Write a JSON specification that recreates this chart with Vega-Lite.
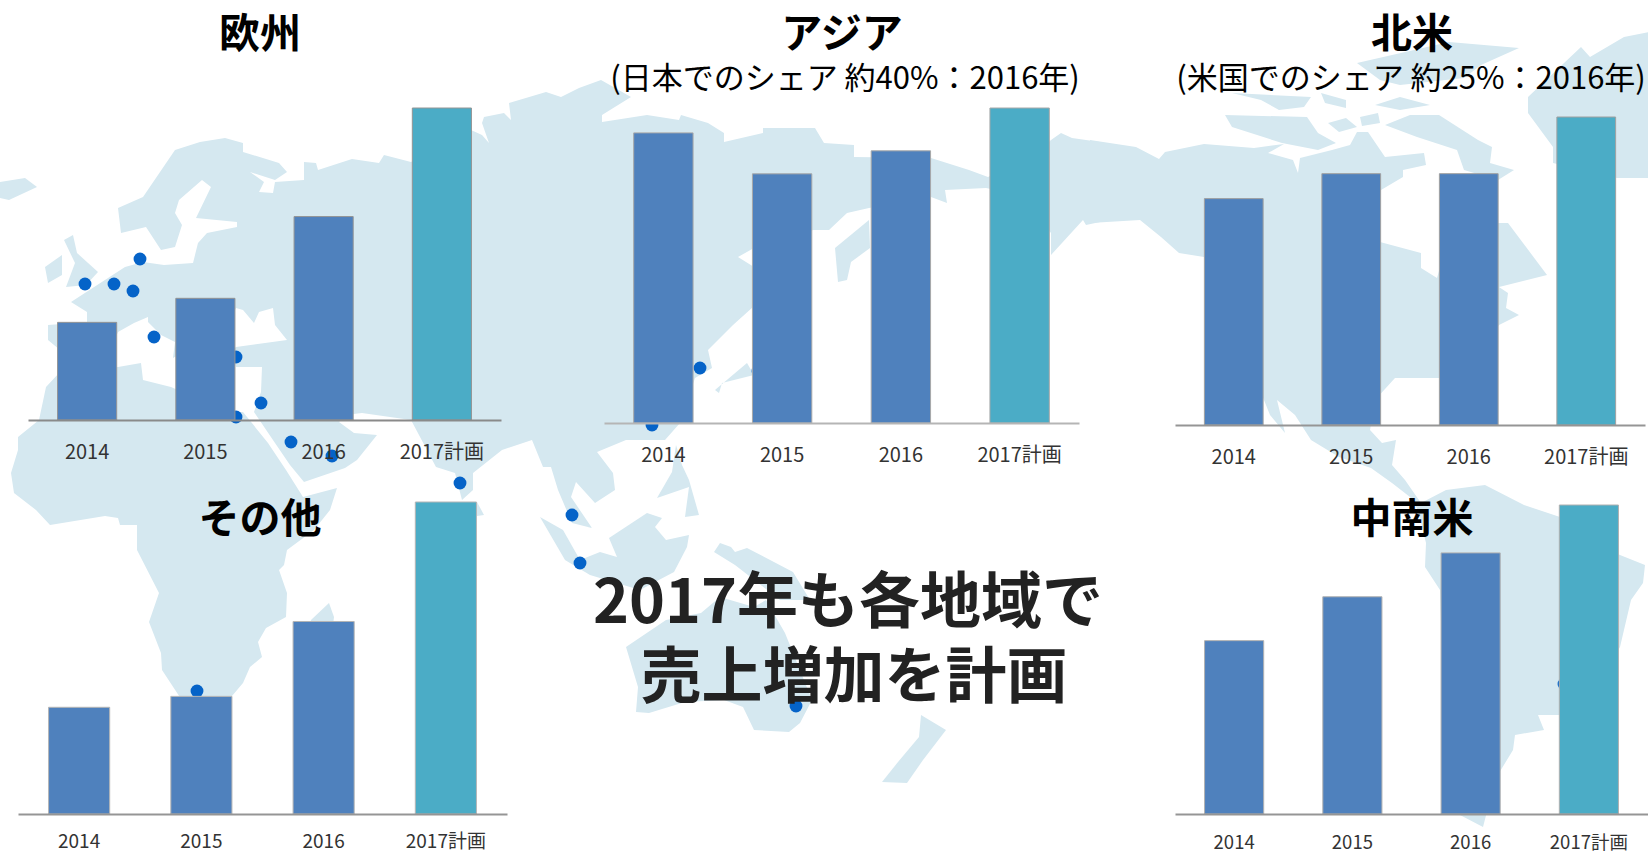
{"$schema":"https://vega.github.io/schema/vega-lite/v6.json","width":1648,"height":851,"padding":0,"autosize":{"type":"none"},"background":"white","config":{"view":{"stroke":null},"font":"Noto Sans CJK JP","axis":{"labelFont":"Noto Sans CJK JP"}},
"datasets":{
"land":[
{"type":"Feature","properties":{"name":"Eurasia"},"geometry":{"type":"Polygon","coordinates":[[[3.6,78.4],[8.6,80.6],[15,90],[20,91.6],[25,92.4],[28.6,91.4],[28.6,89.6],[35.8,87.4],[37.4,85.6],[35,84],[30,85.6],[32.8,83.6],[31.8,81.6],[34.6,81.4],[35,83.6],[40.8,84],[40.8,87.6],[43.2,87.4],[43.6,86],[50.4,88.2],[55.8,87.4],[56.8,89],[62.2,87.6],[74.2,94],[76.4,93],[77.8,91.4],[76.4,95.4],[76.8,96.6],[80.8,97.4],[82.2,96],[81.8,99.4],[89.2,101.6],[92.2,100.6],[95.8,102.4],[100.2,104],[106.2,100.6],[100.4,97],[100.4,95.6],[109.4,97],[115.8,96],[116.2,97],[121.6,95.4],[124.8,93.4],[124.8,91.6],[132.6,93.4],[132.6,94.4],[143,94.4],[144.8,91.4],[150.8,91],[150.8,88.6],[166.2,88.4],[173.8,86],[177.6,84.6],[188,90],[190.2,92],[192.2,93.4],[194.4,92.4],[200,91.6],[200,75.6],[197.2,75],[196.6,76],[190.2,69],[190.2,73.4],[184,81],[177.2,82.4],[169,82],[169.4,79.4],[166.2,80.6],[153.8,78.4],[149.4,77.4],[145.8,74],[142.6,74],[138,72],[130.8,70.4],[127.6,68.6],[130.8,66.6],[130.6,58.6],[126.6,55],[121.6,50],[122.4,46.4],[119,44.4],[116,35.4],[113,32],[105.2,32],[99.4,29.6],[102.6,25.4],[103,22],[99,19.4],[95.2,23.6],[94.2,20.6],[98.4,14.4],[94.4,15.4],[91.6,22],[90.2,26.6],[88.6,26.6],[86.4,32],[80.4,30],[74.6,25.4],[74.6,22],[72.4,20],[71,25.4],[67.2,26.6],[62.2,36],[52.4,37.4],[49,37],[47.8,35.6],[50.8,33.4],[55.4,33],[51.4,28],[49,26.4],[40.8,23.6],[38,27],[35,31.4],[30.8,37.6],[32.2,41.6],[32.4,46.6],[27.2,46.6],[26.4,50],[27.2,50.6],[37.4,52],[35,55],[34.6,58.4],[31.8,57.6],[30.8,55.4],[28.6,58],[27.2,58.4],[26,56],[25,50],[15.6,49],[14.6,48.4],[15,51.6],[12.2,53],[9.6,55.6],[9.6,56.6],[6.8,55.4],[3.6,53.6],[2,50],[-8,50],[-10.4,52],[-10.4,55],[-2.6,55.6],[-2.6,57.6],[-5.8,59.6],[5,66.6],[8.6,67.6],[12.8,67],[18.6,67.4],[19.6,71.4],[21.4,73.4],[27.4,74.6],[27.4,75.6],[19.2,76.4],[22.2,82.6],[20.4,84],[15.8,80],[15,77.4],[16.4,75],[15,70.6],[12.2,70],[9.2,74.6],[4.2,73.4],[3.6,78.4]]]}},
{"type":"Feature","properties":{"name":"Americas"},"geometry":{"type":"Polygon","coordinates":[[[198,92],[207.2,90.6],[211.8,88.2],[213,89.6],[220.8,91.2],[230.8,90.4],[236.8,91.2],[233.6,89.4],[238.6,88],[239.6,85.4],[240,88.4],[246.4,90],[250,91],[251.4,93.6],[253.6,93.6],[257,88.6],[264.8,89.4],[265.2,87],[260.6,86],[260.6,84.6],[256.2,82],[255,72],[256,71.6],[264.2,69.4],[264.2,66.4],[267.4,64.4],[269,70],[274,75],[279.6,75.4],[281.6,75.4],[289.4,65],[279.8,62.6],[281.6,61.4],[281.2,58.4],[283.8,57],[279.8,55],[274,48],[267.8,44.4],[259,44.4],[255,40],[254,34],[256.4,31.4],[259.2,32],[258.4,27],[261,24],[264.2,19.4],[269.2,22],[277,23],[284.8,19],[292,16.6],[298,12],[304,9],[309,7],[308.6,3.4],[306.2,0],[304,-9.4],[298,-20],[292,-23],[287.6,-23],[288.8,-26],[283,-27],[282.6,-30],[279.8,-34.6],[278,-40],[276.6,-45.4],[272,-43],[269,-30],[268,2],[265,6.6],[265.2,11.4],[263.6,18],[262,20.6],[258.4,23.4],[254.2,26.4],[247.8,28.6],[242.2,32],[239,37],[235.4,40],[237,33.4],[234,37],[232.4,41],[227,52],[220.8,68.6],[215.8,69.4],[212.2,72.6],[208,76],[198,75.4],[198,92]]]}},
{"type":"Feature","properties":{"name":"Africa"},"geometry":{"type":"Polygon","coordinates":[[[28.6,37.6],[33.6,31.4],[37.2,26],[40.6,20.6],[47.4,22.4],[46,18],[42.8,14],[37.4,10],[36.8,7],[35.8,6],[37.4,1.4],[37.2,-3.4],[33.2,-5.6],[31.6,-8.4],[32.4,-11.4],[30,-13.4],[28.6,-16.6],[26.4,-19.2],[21,-25],[17,-21],[12.4,-14],[12.2,-10.6],[9.8,-4.4],[11.8,1.4],[7.4,10],[7.4,15],[4,15],[3.6,16.4],[1,16.8],[-10,15],[-12.8,18],[-17.2,21.4],[-17.8,25.4],[-16.4,30],[-16.4,32.6],[-12.2,36],[-10.8,42.6],[-8,45.6],[3.6,46.6],[8.2,47.4],[8.6,44],[14.2,42.6],[20,40],[27,37.6],[28.6,37.6]]]}},
{"type":"Feature","properties":{"name":"Great Britain"},"geometry":{"type":"Polygon","coordinates":[[[-7.2,72],[-5.4,73],[-4.6,69.4],[-0.4,65.6],[-2.8,63],[-6.8,62.6],[-5,67.4],[-7.2,72]]]}},
{"type":"Feature","properties":{"name":"Ireland"},"geometry":{"type":"Polygon","coordinates":[[[-11,66.6],[-7.6,69],[-7.6,65],[-10.4,63.4],[-11,66.6]]]}},
{"type":"Feature","properties":{"name":"Iceland"},"geometry":{"type":"Polygon","coordinates":[[[-20,83.6],[-15,84.4],[-12.6,82.6],[-18.2,80],[-20,80.4],[-20,83.6]]]}},
{"type":"Feature","properties":{"name":"Madagascar"},"geometry":{"type":"Polygon","coordinates":[[[45.8,-0.6],[46.8,-3.4],[46,-10],[41,-12],[42.2,-4],[45.8,-0.6]]]}},
{"type":"Feature","properties":{"name":"Sri Lanka"},"geometry":{"type":"Polygon","coordinates":[[[75.4,19.6],[76.8,17],[75.4,16.8],[73.6,19],[75.4,19.6]]]}},
{"type":"Feature","properties":{"name":"Philippines"},"geometry":{"type":"Polygon","coordinates":[[[115.2,31],[114.4,25.6],[111.4,20.4],[117.8,22.6],[117,16.6],[119.8,17],[117.8,24],[116.4,27],[115.2,31]]]}},
{"type":"Feature","properties":{"name":"Indonesia"},"geometry":{"type":"Polygon","coordinates":[[[88,16.6],[92.6,14],[96,8],[100,9.6],[103.4,8.6],[101.8,12.4],[109.4,17.4],[112.4,16.4],[111,14.6],[113.2,12],[117.8,13],[117.4,10.6],[114.8,5.6],[108,2],[98,5],[93,8],[88,16.6]]]}},
{"type":"Feature","properties":{"name":"New Guinea"},"geometry":{"type":"Polygon","coordinates":[[[122.8,9.6],[124,11.4],[126.2,10.6],[127,9.6],[129.4,10.4],[138.6,5.6],[142,0],[136,0],[127,7],[122.8,9.6]]]}},
{"type":"Feature","properties":{"name":"Australia"},"geometry":{"type":"Polygon","coordinates":[[[105.2,-9.4],[113.2,-4],[120.2,-2.6],[124,0.6],[130.8,-1.4],[133.2,0],[137,-6.6],[142.4,-20],[140,-24.6],[137.8,-26.4],[130.8,-26],[128.6,-21.4],[124.8,-20],[117,-20.4],[109.8,-22.6],[107.2,-22.4],[107.6,-17.4],[105.2,-9.4]]]}},
{"type":"Feature","properties":{"name":"New Zealand"},"geometry":{"type":"Polygon","coordinates":[[[164.2,-23],[169.2,-26],[164.6,-32],[161.4,-36.6],[156.4,-36.4],[159.6,-32.4],[163.8,-27.4],[164.2,-23]]]}},
{"type":"Feature","properties":{"name":"Sakhalin"},"geometry":{"type":"Polygon","coordinates":[[[147,70.4],[153.8,76],[154,70.4],[150.2,67.6],[149.4,64],[147.6,63.6],[147,70.4]]]}},
{"type":"Feature","properties":{"name":"Japan"},"geometry":{"type":"Polygon","coordinates":[[[123,42],[129.4,47.4],[130.8,45],[124.4,43.4],[123.8,41.4],[123,42]]]}},
{"type":"Feature","properties":{"name":"Greenland"},"geometry":{"type":"Polygon","coordinates":[[[285.6,100.6],[296.2,110.6],[298,108.6],[304.8,112.6],[312,114],[312,84.4],[303.4,84.4],[290.6,87.4],[290.6,90.6],[285.6,97.4],[285.6,100.6]]]}},
{"type":"Feature","properties":{"name":"Ellesmere"},"geometry":{"type":"Polygon","coordinates":[[[251.4,107.4],[269.8,111.6],[283.8,110.4],[276.2,107],[272.8,104.4],[260,103],[256,104],[251.4,107.4]]]}},
{"type":"Feature","properties":{"name":"Baffin"},"geometry":{"type":"Polygon","coordinates":[[[257,95],[262,97],[267.8,97],[275.6,92],[278.4,90.6],[278,87.4],[282.8,86],[279.6,84],[272.8,86],[271.4,90],[263.4,92.6],[257,95]]]}},
{"type":"Feature","properties":{"name":"Victoria"},"geometry":{"type":"Polygon","coordinates":[[[225,97],[241.4,96.6],[243.6,93.4],[247.2,91.4],[243.6,90],[236.4,91.4],[226.4,94.6],[225,97]]]}},
{"type":"Feature","properties":{"name":"Arctic A"},"geometry":{"type":"Polygon","coordinates":[[[245.6,95.4],[249.2,96.4],[251.4,94.6],[247.8,93.6],[245.6,95.4]]]}},
{"type":"Feature","properties":{"name":"Arctic B"},"geometry":{"type":"Polygon","coordinates":[[[252,96.6],[255.6,97.4],[256,95.4],[252.4,94.8],[252,96.6]]]}},
{"type":"Feature","properties":{"name":"Arctic C"},"geometry":{"type":"Polygon","coordinates":[[[255,99],[260,100.6],[266,99],[260,98],[255,99]]]}},
{"type":"Feature","properties":{"name":"Arctic D"},"geometry":{"type":"Polygon","coordinates":[[[244.2,101.4],[249.2,100],[249.2,98.4],[245,99.4],[244.2,101.4]]]}},
{"type":"Feature","properties":{"name":"Arctic E"},"geometry":{"type":"Polygon","coordinates":[[[226.4,101.4],[242.2,100.6],[240.8,98.6],[235.8,98],[232.2,100],[226.4,101.4]]]}}
],
"sites":[{"lon":8,"lat":68.2},{"lon":-3,"lat":63.2},{"lon":2.8,"lat":63.2},{"lon":6.6,"lat":61.8},{"lon":10.8,"lat":52.6},{"lon":27.2,"lat":48.6},{"lon":32.2,"lat":39.4},{"lon":27.2,"lat":36.6},{"lon":38.2,"lat":31.6},{"lon":46.4,"lat":28.8},{"lon":72,"lat":23.4},{"lon":19.4,"lat":-18.2},{"lon":120,"lat":46.4},{"lon":131.6,"lat":45.8},{"lon":110.4,"lat":35},{"lon":94.4,"lat":17},{"lon":96,"lat":7.4},{"lon":139.2,"lat":-21.2},{"lon":292.8,"lat":-16.8}],
"sales":[
{"region":"欧州","year":"2014","value":31.3,"kind":"実績"},{"region":"欧州","year":"2015","value":39,"kind":"実績"},{"region":"欧州","year":"2016","value":65.2,"kind":"実績"},{"region":"欧州","year":"2017計画","value":100,"kind":"計画"},
{"region":"アジア","year":"2014","value":92.1,"kind":"実績"},{"region":"アジア","year":"2015","value":79.1,"kind":"実績"},{"region":"アジア","year":"2016","value":86.4,"kind":"実績"},{"region":"アジア","year":"2017計画","value":100,"kind":"計画"},
{"region":"北米","year":"2014","value":73.5,"kind":"実績"},{"region":"北米","year":"2015","value":81.6,"kind":"実績"},{"region":"北米","year":"2016","value":81.6,"kind":"実績"},{"region":"北米","year":"2017計画","value":100,"kind":"計画"},
{"region":"その他","year":"2014","value":34.2,"kind":"実績"},{"region":"その他","year":"2015","value":37.7,"kind":"実績"},{"region":"その他","year":"2016","value":61.7,"kind":"実績"},{"region":"その他","year":"2017計画","value":100,"kind":"計画"},
{"region":"中南米","year":"2014","value":56.1,"kind":"実績"},{"region":"中南米","year":"2015","value":70.3,"kind":"実績"},{"region":"中南米","year":"2016","value":84.5,"kind":"実績"},{"region":"中南米","year":"2017計画","value":100,"kind":"計画"}],
"titles":[{"title":"欧州","col":0,"row":0},{"title":"アジア","col":1,"row":0},{"title":"北米","col":2,"row":0},{"title":"その他","col":0,"row":1},{"title":"中南米","col":2,"row":1}],
"notes":[{"note":"(日本でのシェア 約40%：2016年)","col":1},{"note":"(米国でのシェア 約25%：2016年)","col":2}],
"headline":[{"line":"2017年も各地域で"},{"line":"売上増加を計画"}]
},
"layer":[
{"data":{"name":"land"},"projection":{"type":"identity","reflectY":true,"scale":5,"translate":[100,600]},"mark":{"type":"geoshape","fill":"#D5E8F0","stroke":null},"encoding":{}},
{"data":{"name":"sites"},"projection":{"type":"identity","reflectY":true,"scale":5,"translate":[100,600]},"mark":{"type":"circle","color":"#0563C8","opacity":1,"size":165},"encoding":{"longitude":{"field":"lon","type":"quantitative"},"latitude":{"field":"lat","type":"quantitative"}}},
{"data":{"name":"sales"},"transform":[{"filter":"datum.region==='欧州'"}],"mark":{"type":"bar","stroke":"#949494","strokeWidth":1},"encoding":{"x":{"field":"year","type":"nominal","sort":null,"scale":{"range":[28,501],"paddingInner":0.5,"paddingOuter":0.25},"axis":{"orient":"bottom","title":null,"ticks":false,"grid":false,"labelAngle":0,"labelFontSize":20,"labelColor":"#333333","labelBaseline":"middle","labelPadding":32,"domainColor":"#8a8a8a","domainWidth":2,"offset":-431,"zindex":1}},"y":{"field":"value","type":"quantitative","scale":{"domain":[0,100],"range":[420,108],"nice":false},"axis":null},"color":{"field":"kind","type":"nominal","scale":{"domain":["実績","計画"],"range":["#4F81BD","#4BACC6"]},"legend":null}}},
{"data":{"name":"sales"},"transform":[{"filter":"datum.region==='アジア'"}],"mark":{"type":"bar","stroke":"#a8a8a8","strokeWidth":1},"encoding":{"x":{"field":"year","type":"nominal","sort":null,"scale":{"range":[604,1079],"paddingInner":0.5,"paddingOuter":0.25},"axis":{"orient":"bottom","title":null,"ticks":false,"grid":false,"labelAngle":0,"labelFontSize":20,"labelColor":"#333333","labelBaseline":"middle","labelPadding":32,"domainColor":"#b5b5b5","domainWidth":2,"offset":-428,"zindex":1}},"y":{"field":"value","type":"quantitative","scale":{"domain":[0,100],"range":[423,108],"nice":false},"axis":null},"color":{"field":"kind","type":"nominal","scale":{"domain":["実績","計画"],"range":["#4F81BD","#4BACC6"]},"legend":null}}},
{"data":{"name":"sales"},"transform":[{"filter":"datum.region==='北米'"}],"mark":{"type":"bar","stroke":"#a0a0a0","strokeWidth":1},"encoding":{"x":{"field":"year","type":"nominal","sort":null,"scale":{"range":[1175,1645],"paddingInner":0.5,"paddingOuter":0.25},"axis":{"orient":"bottom","title":null,"ticks":false,"grid":false,"labelAngle":0,"labelFontSize":20,"labelColor":"#333333","labelBaseline":"middle","labelPadding":32,"domainColor":"#959595","domainWidth":2,"offset":-426,"zindex":1}},"y":{"field":"value","type":"quantitative","scale":{"domain":[0,100],"range":[425,117],"nice":false},"axis":null},"color":{"field":"kind","type":"nominal","scale":{"domain":["実績","計画"],"range":["#4F81BD","#4BACC6"]},"legend":null}}},
{"data":{"name":"sales"},"transform":[{"filter":"datum.region==='その他'"}],"mark":{"type":"bar","stroke":"#b5b5b5","strokeWidth":1},"encoding":{"x":{"field":"year","type":"nominal","sort":null,"scale":{"range":[18,507],"paddingInner":0.5,"paddingOuter":0.25},"axis":{"orient":"bottom","title":null,"ticks":false,"grid":false,"labelAngle":0,"labelFontSize":19,"labelColor":"#333333","labelBaseline":"middle","labelPadding":27,"domainColor":"#959595","domainWidth":2,"offset":-37,"zindex":1}},"y":{"field":"value","type":"quantitative","scale":{"domain":[0,100],"range":[814,502],"nice":false},"axis":null},"color":{"field":"kind","type":"nominal","scale":{"domain":["実績","計画"],"range":["#4F81BD","#4BACC6"]},"legend":null}}},
{"data":{"name":"sales"},"transform":[{"filter":"datum.region==='中南米'"}],"mark":{"type":"bar","stroke":"#b0b0b0","strokeWidth":1},"encoding":{"x":{"field":"year","type":"nominal","sort":null,"scale":{"range":[1175,1648],"paddingInner":0.5,"paddingOuter":0.25},"axis":{"orient":"bottom","title":null,"ticks":false,"grid":false,"labelAngle":0,"labelFontSize":18.5,"labelColor":"#333333","labelBaseline":"middle","labelPadding":28,"domainColor":"#959595","domainWidth":2,"offset":-37,"zindex":1}},"y":{"field":"value","type":"quantitative","scale":{"domain":[0,100],"range":[814,505],"nice":false},"axis":null},"color":{"field":"kind","type":"nominal","scale":{"domain":["実績","計画"],"range":["#4F81BD","#4BACC6"]},"legend":null}}},
{"data":{"name":"titles"},"mark":{"type":"text","font":"Noto Sans CJK JP","fontWeight":"bold","fontSize":41,"color":"#000000","baseline":"middle","align":"center"},"encoding":{"x":{"field":"col","type":"quantitative","scale":{"domain":[0,1,2],"range":[260,842,1412]},"axis":null},"y":{"field":"row","type":"quantitative","scale":{"domain":[0,1],"range":[36,521]},"axis":null},"text":{"field":"title"}}},
{"data":{"name":"notes"},"mark":{"type":"text","font":"Noto Sans CJK JP","fontSize":31,"color":"#000000","baseline":"middle","align":"center"},"encoding":{"x":{"field":"col","type":"quantitative","scale":{"domain":[1,2],"range":[845,1411]},"axis":null},"y":{"field":"col","type":"quantitative","scale":{"domain":[1,2],"range":[80,80]},"axis":null},"text":{"field":"note"}}},
{"data":{"name":"headline"},"mark":{"type":"text","font":"Noto Sans CJK JP","fontWeight":"bold","fontSize":61,"color":"#222222","baseline":"middle","align":"center"},"encoding":{"x":{"field":"line","type":"nominal","sort":null,"scale":{"type":"point","padding":0,"range":[848,854]},"axis":null},"y":{"field":"line","type":"nominal","sort":null,"scale":{"type":"point","padding":0,"range":[605,680]},"axis":null},"text":{"field":"line"}}}
],
"resolve":{"scale":{"x":"independent","y":"independent"},"axis":{"x":"independent","y":"independent"}}}
